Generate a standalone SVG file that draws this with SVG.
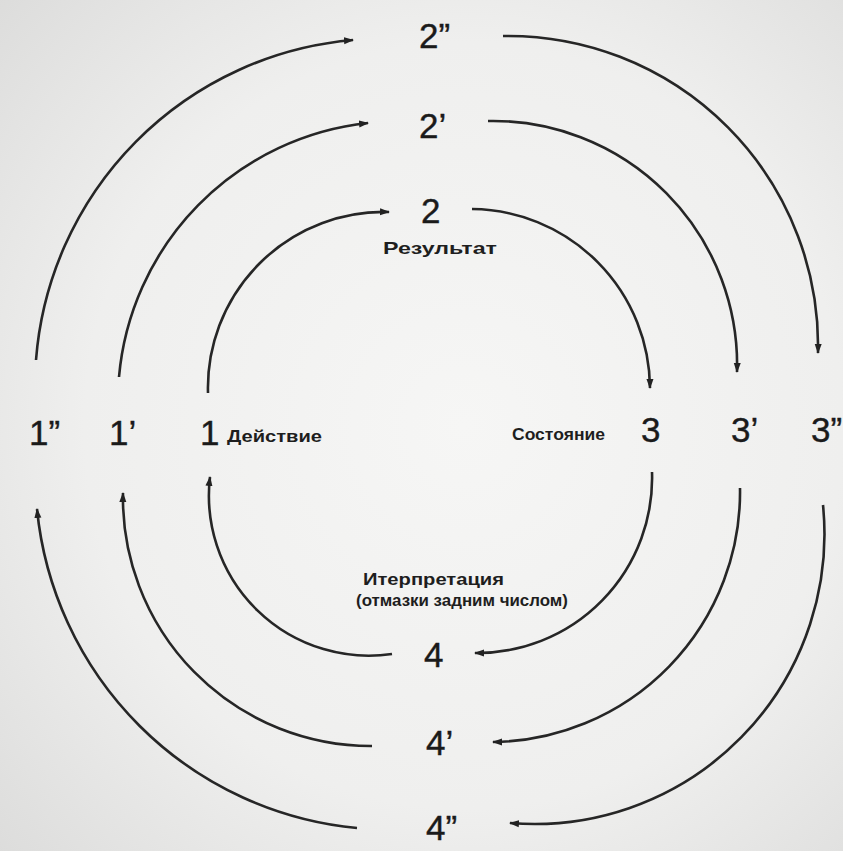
<svg xmlns="http://www.w3.org/2000/svg" width="843" height="851" viewBox="0 0 843 851">
<defs>
<radialGradient id="bg" cx="0.55" cy="0.5" r="0.75">
<stop offset="0" stop-color="#f6f6f5"/>
<stop offset="0.6" stop-color="#efefee"/>
<stop offset="1" stop-color="#dcdcdb"/>
</radialGradient>
<marker id="ah" viewBox="0 0 10 8" refX="9" refY="4" markerWidth="10" markerHeight="8" markerUnits="userSpaceOnUse" orient="auto">
<path d="M0,0.5 L10,4 L0,7.5 z" fill="#222"/>
</marker>
<style>
.arc{fill:none;stroke:#262626;stroke-width:2.6;marker-end:url(#ah)}
.num{font-family:"Liberation Sans",Arial,sans-serif;font-size:35px;fill:#1a1a1a;stroke:#1a1a1a;stroke-width:0.4}
.lbl{font-family:"Liberation Sans",Arial,sans-serif;font-weight:bold;font-size:17px;fill:#1e1e1e}
</style>
</defs>
<rect x="0" y="0" width="843" height="851" fill="url(#bg)"/>
<g id="connectors">
<path class="arc" d="M36,360 A348,348 0 0 1 353,40"/>
<path class="arc" d="M119,377 A280,280 0 0 1 368,123"/>
<path class="arc" d="M208,393 A176,176 0 0 1 389,212"/>
<path class="arc" d="M503,36 A310,310 0 0 1 818,353"/>
<path class="arc" d="M488,121 A244,244 0 0 1 737,372"/>
<path class="arc" d="M472,209 A180,180 0 0 1 650,388"/>
<path class="arc" d="M823,505 A290,290 0 0 1 510,823"/>
<path class="arc" d="M740,488 A250,250 0 0 1 493,742"/>
<path class="arc" d="M652,472 A175,175 0 0 1 475,653"/>
<path class="arc" d="M357,828 A355,355 0 0 1 37,509"/>
<path class="arc" d="M372,746 A248,248 0 0 1 123,493"/>
<path class="arc" d="M392,654 A160,160 0 0 1 210,477"/>
</g>
<g id="node-1"><text class="num" x="200" y="445">1</text><text class="lbl" x="227" y="442" textLength="95" lengthAdjust="spacingAndGlyphs">Действие</text></g>
<g id="node-1p"><text class="num" x="109" y="445">1’</text></g>
<g id="node-1pp"><text class="num" x="29" y="445">1”</text></g>
<g id="node-2"><text class="num" x="421" y="223">2</text><text class="lbl" x="383" y="254" textLength="114" lengthAdjust="spacingAndGlyphs">Результат</text></g>
<g id="node-2p"><text class="num" x="419" y="138">2’</text></g>
<g id="node-2pp"><text class="num" x="419" y="48">2”</text></g>
<g id="node-3"><text class="num" x="641" y="442">3</text><text class="lbl" x="512" y="440" textLength="93" lengthAdjust="spacingAndGlyphs">Состояние</text></g>
<g id="node-3p"><text class="num" x="731" y="442">3’</text></g>
<g id="node-3pp"><text class="num" x="811" y="442">3”</text></g>
<g id="node-4"><text class="num" x="424" y="667">4</text><text class="lbl" x="363" y="585" textLength="141" lengthAdjust="spacingAndGlyphs">Итерпретация</text><text class="lbl" x="356" y="606" textLength="212" lengthAdjust="spacingAndGlyphs">(отмазки задним числом)</text></g>
<g id="node-4p"><text class="num" x="426" y="755">4’</text></g>
<g id="node-4pp"><text class="num" x="426" y="840">4”</text></g>
</svg>
